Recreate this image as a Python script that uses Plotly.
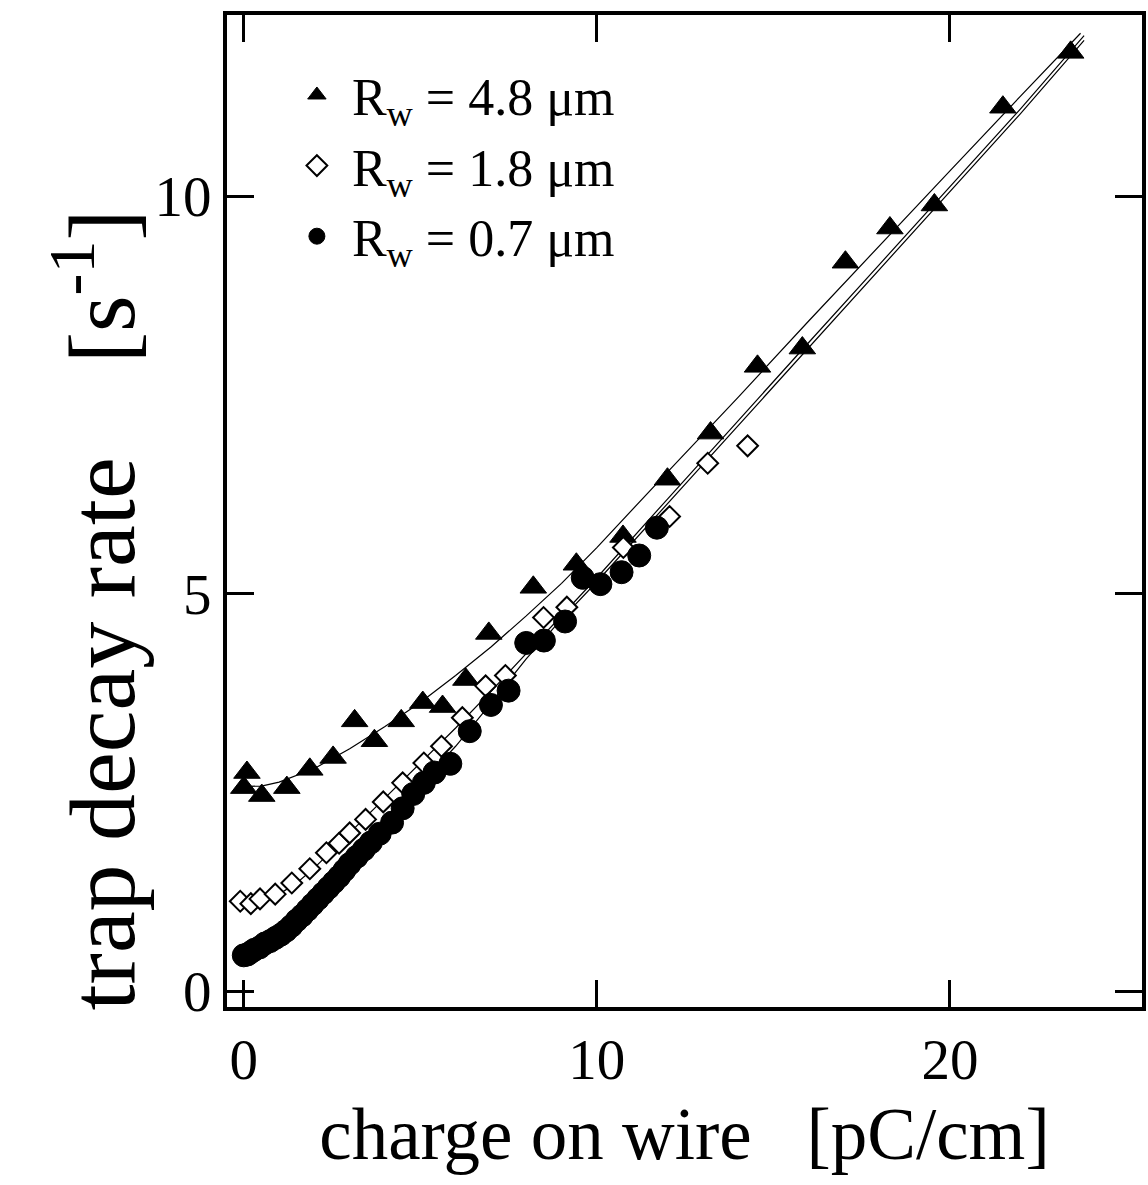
import plotly.graph_objects as go

# ---- data ----
tri_x = [0.0, 0.09, 0.51, 1.22, 1.87, 2.53, 3.14, 3.7, 4.46, 5.07, 5.63, 6.29, 6.94,
         8.2, 9.42, 10.74, 12.0, 13.22, 14.55, 15.82, 17.04, 18.3, 19.56, 21.5, 23.42]
tri_y = [2.56, 2.75, 2.46, 2.56, 2.79, 2.94, 3.4, 3.15, 3.4, 3.63, 3.58, 3.92, 4.5,
         5.08, 5.37, 5.72, 6.44, 7.02, 7.86, 8.09, 9.17, 9.6, 9.89, 11.12, 11.81]

dia_x = [-0.1, 0.2, 0.46, 0.89, 1.36, 1.87, 2.34, 2.7, 3.0, 3.45, 3.95, 4.5, 5.1, 5.6,
         6.19, 6.85, 7.41, 8.49, 9.15, 10.75, 12.06, 13.14, 14.27]
dia_y = [1.13, 1.1, 1.16, 1.22, 1.36, 1.54, 1.74, 1.86, 1.99, 2.16, 2.38, 2.62, 2.87, 3.08,
         3.44, 3.84, 3.97, 4.7, 4.83, 5.58, 5.97, 6.64, 6.86]

cir_x = [0.0, 0.1, 0.2, 0.3, 0.45, 0.6, 0.75, 0.9, 1.05, 1.2, 1.35, 1.5, 1.65, 1.8, 1.95,
         2.1, 2.25, 2.4, 2.55, 2.7, 2.85, 3.0, 3.2, 3.4, 3.6, 3.85, 4.2, 4.5, 4.8, 5.1,
         5.4, 5.85, 6.4, 7.0, 7.5, 8.0, 8.5, 9.1, 9.6, 10.1, 10.7, 11.2, 11.7]
cir_y = [0.45, 0.46, 0.49, 0.52, 0.55, 0.6, 0.63, 0.67, 0.71, 0.76, 0.82, 0.89, 0.95, 1.02, 1.09,
         1.16, 1.23, 1.3, 1.37, 1.44, 1.52, 1.6, 1.69, 1.78, 1.87, 1.98, 2.12, 2.3, 2.48, 2.62,
         2.75, 2.86, 3.27, 3.6, 3.78, 4.38, 4.41, 4.65, 5.2, 5.12, 5.27, 5.48, 5.83]

# fitted curves
fit_tri_x = [-0.2, 0.5, 1, 2, 3, 4, 5, 6, 7, 8, 9, 10, 12, 14, 16, 18, 20, 22, 23.7]
fit_tri_y = [2.57, 2.58, 2.63, 2.8, 3.05, 3.33, 3.63, 3.97, 4.33, 4.72, 5.13, 5.58, 6.53,
             7.47, 8.43, 9.38, 10.32, 11.26, 12.05]
fit_dia_x = [-0.3, 0.5, 1, 1.5, 2, 2.5, 3, 3.5, 4, 5, 6, 7, 8, 9, 10, 12, 14, 16, 18, 20, 22, 23.8]
fit_dia_y = [1.11, 1.13, 1.22, 1.36, 1.55, 1.77, 1.99, 2.2, 2.42, 2.86, 3.31, 3.77, 4.25, 4.73,
             5.2, 6.19, 7.18, 8.16, 9.14, 10.12, 11.1, 12.02]
fit_cir_x = [0, 0.5, 1, 1.5, 2, 2.5, 3, 3.5, 4, 5, 6, 7, 8, 9, 10, 12, 14, 16, 18, 20, 22, 23.8]
fit_cir_y = [0.45, 0.53, 0.68, 0.88, 1.1, 1.35, 1.6, 1.84, 2.09, 2.6, 3.08, 3.62, 4.18, 4.68,
             5.15, 6.13, 7.12, 8.1, 9.08, 10.06, 11.04, 11.96]

x_ticks = [0, 10, 20]
y_ticks = [0, 5, 10]

FONT = "Liberation Serif, Times New Roman, serif"

fig = go.Figure()

for fx, fy in [(fit_tri_x, fit_tri_y), (fit_dia_x, fit_dia_y), (fit_cir_x, fit_cir_y)]:
    fig.add_trace(go.Scatter(x=fx, y=fy, mode="lines", line=dict(color="black", width=1.2),
                             showlegend=False, hoverinfo="skip"))

fig.add_trace(go.Scatter(x=tri_x, y=tri_y, mode="markers", name="R<sub>w</sub> = 4.8 μm",
                         marker=dict(symbol="triangle-up", size=23, color="black",
                                     line=dict(color="black", width=1))))
fig.add_trace(go.Scatter(x=dia_x, y=dia_y, mode="markers", name="R<sub>w</sub> = 1.8 μm",
                         marker=dict(symbol="diamond", size=16, color="white",
                                     line=dict(color="black", width=2))))
fig.add_trace(go.Scatter(x=cir_x, y=cir_y, mode="markers", name="R<sub>w</sub> = 0.7 μm",
                         marker=dict(symbol="circle", size=23, color="black",
                                     line=dict(color="black", width=1))))

axis_common = dict(showline=True, linewidth=4, linecolor="black", mirror="ticks",
                   ticks="inside", ticklen=27, tickwidth=3, tickcolor="black",
                   showgrid=False, zeroline=False,
                   tickfont=dict(family=FONT, size=57, color="black"))

fig.update_layout(
    width=1148, height=1185,
    margin=dict(l=227, r=2, t=15, b=178),
    paper_bgcolor="white", plot_bgcolor="white",
    font=dict(family=FONT, color="black"),
    showlegend=True,
    legend=dict(x=0.06, y=0.96, xanchor="left", yanchor="top",
                font=dict(family=FONT, size=52, color="black"),
                itemwidth=60,
                bgcolor="rgba(0,0,0,0)", borderwidth=0, tracegroupgap=0),
    xaxis=dict(range=[-0.475, 25.44], tickvals=x_ticks,
               title=dict(text="charge on wire\u00a0\u00a0\u00a0[pC/cm]",
                          font=dict(family=FONT, size=73, color="black"), standoff=18),
               **axis_common),
    yaxis=dict(range=[-0.2, 12.28], tickvals=y_ticks, **axis_common),
)

fig.add_annotation(
    text="trap decay rate\u00a0\u00a0\u00a0\u00a0[s<sup>-1</sup>]",
    xref="paper", yref="paper", x=-0.145, y=0.40, xanchor="center", yanchor="middle",
    textangle=-90, showarrow=False,
    font=dict(family=FONT, size=94, color="black"))

fig.write_html("out.html", config={"displayModeBar": False},
               post_script="document.body.style.margin='0';")
